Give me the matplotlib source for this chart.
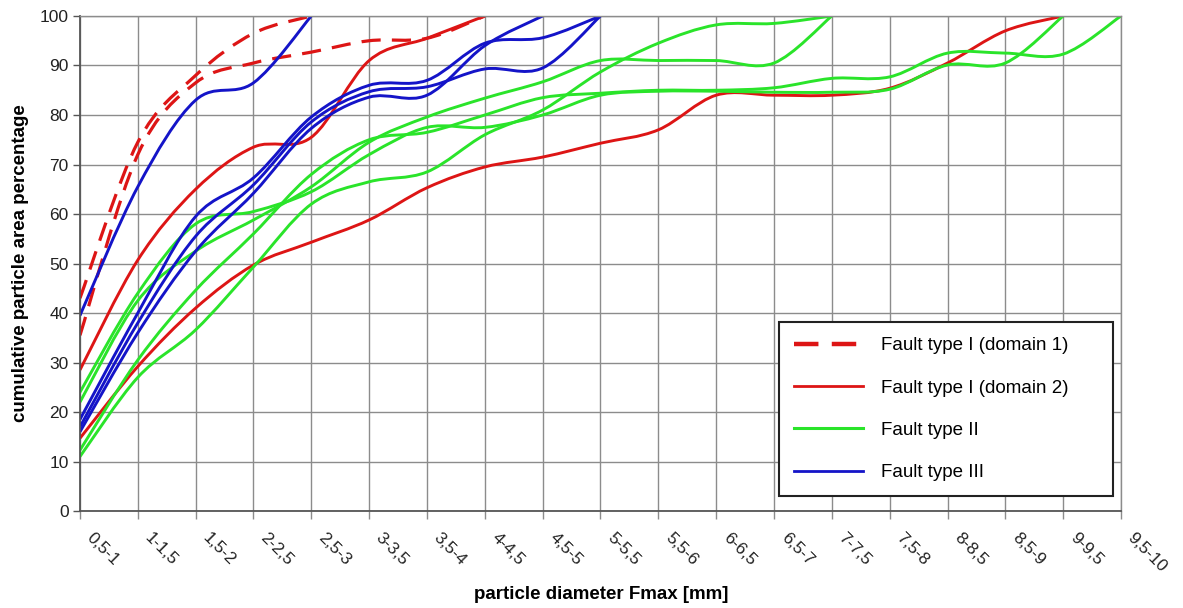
import matplotlib
matplotlib.use("Agg")
import matplotlib.pyplot as plt
from matplotlib.path import Path
from matplotlib.patches import PathPatch
from matplotlib.lines import Line2D

plt.rcParams["font.family"] = ["Liberation Sans", "DejaVu Sans"]

size_classes = ["0,5-1", "1-1,5", "1,5-2", "2-2,5", "2,5-3", "3-3,5", "3,5-4",
                "4-4,5", "4,5-5", "5-5,5", "5,5-6", "6-6,5", "6,5-7", "7-7,5",
                "7,5-8", "8-8,5", "8,5-9", "9-9,5", "9,5-10"]

# cumulative area percentage per size class, one list per sample
type1_dom1 = [
    [43, 74.5, 88, 96.5, 100],
    [35.5, 72, 86.5, 90.5, 92.7, 95, 95.5, 100],
]
type1_dom2 = [
    [28.5, 50.7, 65, 73.5, 75.5, 91, 95.5, 100],
    [14.7, 29.2, 41, 49.7, 54.3, 58.8, 65.3, 69.5, 71.5, 74.3, 77, 84, 84,
     84, 85.4, 90.5, 97, 100],
]
type2 = [
    [24, 44, 58, 60.5, 64.5, 72, 77.5, 77.5, 80, 84, 84.8, 84.8, 84.6,
     84.6, 85.2, 90.1, 90.5, 100],
    [22, 42.5, 52.5, 58.8, 65.5, 74.5, 79.6, 83.4, 86.7, 91, 91, 91, 90.5, 100],
    [12.3, 30.5, 44.6, 56, 68, 75, 76.5, 80, 83.5, 84.4, 85, 85, 85.5, 87.4,
     87.7, 92.5, 92.5, 92.3, 100],
    [11, 27, 36.6, 49.3, 62, 66.5, 68.5, 76, 81, 88.7, 94.5, 98.2, 98.5, 100],
]
type3 = [
    [39.5, 65.5, 83, 86.5, 100],
    [18.5, 40, 59.5, 67.3, 79.6, 86, 87, 94.5, 95.6, 100],
    [17, 38, 55.5, 65.9, 78.6, 84.7, 85.7, 89.3, 89.5, 100],
    [16, 36, 52.5, 64.2, 77.3, 83.6, 84, 94, 100],
]

RED = "#dd1515"
GREEN = "#2ae42a"
BLUE = "#1414c8"
GRID = "#8c8c8c"


def smooth_path(values):
    # smoothed line through the points (Bezier segments, Catmull-Rom tangents)
    pts = list(enumerate(values))
    n = len(pts)
    verts = [pts[0]]
    codes = [Path.MOVETO]
    for i in range(n - 1):
        p0 = pts[max(i - 1, 0)]
        p1 = pts[i]
        p2 = pts[i + 1]
        p3 = pts[min(i + 2, n - 1)]
        c1 = (p1[0] + (p2[0] - p0[0]) / 6.0, p1[1] + (p2[1] - p0[1]) / 6.0)
        c2 = (p2[0] - (p3[0] - p1[0]) / 6.0, p2[1] - (p3[1] - p1[1]) / 6.0)
        verts += [c1, c2, p2]
        codes += [Path.CURVE4] * 3
    return Path(verts, codes)


def draw(ax, series, color, ls="-", lw=2.0):
    for vals in series:
        patch = PathPatch(smooth_path(vals), fill=False, edgecolor=color,
                          linewidth=lw, linestyle=ls, capstyle="butt",
                          joinstyle="round")
        ax.add_patch(patch)


fig = plt.figure(figsize=(11.83, 6.08), dpi=100)
ax = fig.add_axes([0.0676, 0.1595, 0.88, 0.8142])

dash = (0, (6, 3.5))
draw(ax, type1_dom1, RED, ls=dash, lw=2.3)
draw(ax, type1_dom2, RED, lw=2.1)
draw(ax, type2, GREEN, lw=2.1)
draw(ax, type3, BLUE, lw=2.1)

ax.set_xlim(0, len(size_classes) - 1)
ax.set_ylim(0, 100)
ax.set_xticks(range(len(size_classes)))
ax.set_xticklabels([])
# slanted class labels, set a little to the right of each tick
for i, lab in enumerate(size_classes):
    ax.annotate(lab, xy=(i, 0), xycoords=("data", "axes fraction"),
                xytext=(10.5, -14), textcoords="offset points",
                rotation=-45, rotation_mode="anchor", ha="left", va="top",
                fontsize=12.3, color="#222222", annotation_clip=False)

ax.set_yticks(range(0, 101, 10))
ax.tick_params(axis="y", labelsize=12.5, colors="#222222", length=5,
               width=1, direction="out", pad=3)
ax.tick_params(axis="x", length=6, width=1, direction="out", color=GRID)
ax.tick_params(axis="y", color="#555555")

ax.grid(True, color=GRID, linewidth=1.0)
ax.set_axisbelow(True)
for side in ("top", "right"):
    ax.spines[side].set_color(GRID)
    ax.spines[side].set_linewidth(1.0)
for side in ("left", "bottom"):
    ax.spines[side].set_color("#555555")
    ax.spines[side].set_linewidth(1.3)

ax.set_ylabel("cumulative particle area percentage", fontsize=13.5,
              fontweight="bold", labelpad=8)
fig.text(0.508, 0.022, "particle diameter Fmax [mm]", fontsize=13.5,
         fontweight="bold", ha="center", va="center")

handles = [
    Line2D([], [], color=RED, lw=3.2, linestyle=(0, (5.5, 3))),
    Line2D([], [], color=RED, lw=2.0),
    Line2D([], [], color=GREEN, lw=2.2),
    Line2D([], [], color=BLUE, lw=2.0),
]
labels = ["Fault type I (domain 1)", "Fault type I (domain 2)",
          "Fault type II", "Fault type III"]
leg = ax.legend(handles, labels, loc="upper left", mode="expand",
                bbox_to_anchor=(0.6715, 0.0303, 0.3208, 0.3515),
                fontsize=13.5, handlelength=3.7, handletextpad=0.95,
                labelspacing=1.35, borderpad=0.8, borderaxespad=0,
                fancybox=False, framealpha=1, edgecolor="#222222")
leg.get_frame().set_linewidth(1.5)

fig.savefig("out.png", dpi=100, facecolor="white")
